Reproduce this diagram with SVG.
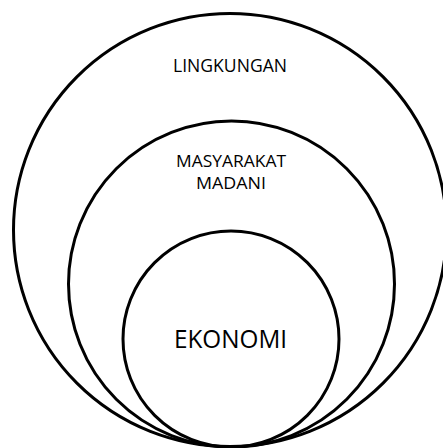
<svg xmlns="http://www.w3.org/2000/svg" width="443" height="448" viewBox="0 0 443 448">
<style>
.ring{fill:none;stroke:#000;stroke-width:3}
.lbl{font-family:"Open Sans","Liberation Sans",sans-serif;fill:#000;text-anchor:middle}
</style>
<rect width="443" height="448" fill="#fff"/>
<g id="lingkungan">
<circle class="ring" cx="230" cy="230" r="216.5"/>
<text class="lbl" x="230" y="72" font-size="17.5" textLength="114" lengthAdjust="spacingAndGlyphs">LINGKUNGAN</text>
</g>
<g id="masyarakat">
<circle class="ring" cx="231.5" cy="284" r="163"/>
<text class="lbl" x="231" y="166.5" font-size="16" textLength="110" lengthAdjust="spacingAndGlyphs">MASYARAKAT</text>
<text class="lbl" x="231" y="189" font-size="16" textLength="70" lengthAdjust="spacingAndGlyphs">MADANI</text>
</g>
<g id="ekonomi">
<circle class="ring" cx="231" cy="339" r="108"/>
<text class="lbl" x="230.5" y="348" font-size="25.5" textLength="113" lengthAdjust="spacingAndGlyphs">EKONOMI</text>
</g>
<g id="connectors"/>
</svg>
